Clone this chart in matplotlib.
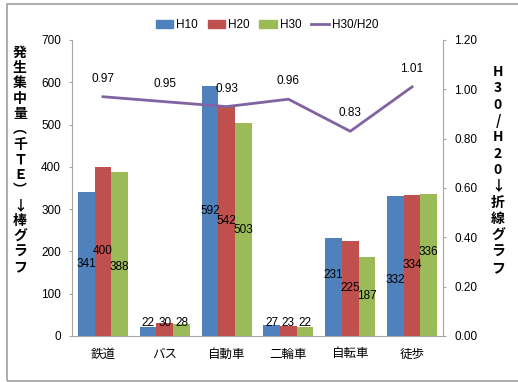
import matplotlib
matplotlib.use("Agg")
import matplotlib.pyplot as plt
import numpy as np
from matplotlib.lines import Line2D
from matplotlib.patches import Rectangle

plt.rcParams['font.family'] = ['Liberation Sans', 'Noto Sans CJK JP', 'DejaVu Sans']

categories = ['鉄道', 'バス', '自動車', '二輪車', '自転車', '徒歩']
h10 = [341, 22, 592, 27, 231, 332]
h20 = [400, 30, 542, 23, 225, 334]
h30 = [388, 28, 503, 22, 187, 336]
ratio = [0.97, 0.95, 0.93, 0.96, 0.83, 1.01]
series_names = ['H10', 'H20', 'H30', 'H30/H20']

left_label = '発生集中量︵千ＴＥ︶↓棒グラフ'
right_label = 'H30/H20↓折線グラフ'

colors = ['#4F81BD', '#C0504D', '#9BBB59']
line_color = '#8064A2'
axis_gray = '#A6A6A6'

# vertical nudges (points) for value labels that would otherwise collide
label_nudge = {(0, 2): -9.5, (4, 0): 8.5, (5, 0): -10, (5, 2): 9.5}

W, H = 518, 382
fig = plt.figure(figsize=(W / 100, H / 100), dpi=100)
ax = fig.add_axes([72 / W, 1 - 336 / H, (443 - 72) / W, (336 - 40) / H])
ax2 = ax.twinx()

x = np.arange(len(categories))
bw = 0.27
for i, (vals, c) in enumerate(zip([h10, h20, h30], colors)):
    pos = x + (i - 1) * bw
    ax.bar(pos, vals, width=bw, color=c, zorder=2)
    for j, (p, v) in enumerate(zip(pos, vals)):
        ax.annotate(str(v), (p, max(v / 2, 31)),
                    xytext=(0, label_nudge.get((j, i), 0)), textcoords='offset points',
                    ha='center', va='center', fontsize=8.5, color='black', zorder=5)

ax.set_xlim(-0.5, len(categories) - 0.5)
ax.set_ylim(0, 700)
ax.set_yticks(np.arange(0, 701, 100))
ax.set_xticks(x)
ax.set_xticklabels(categories, fontsize=9)
ax.tick_params(axis='x', length=0, pad=9)
ax.tick_params(axis='y', length=2.5, color=axis_gray, labelsize=8.5, pad=5.5)

ax2.plot(x, ratio, color=line_color, lw=2.0, zorder=4)
for xi, r in zip(x, ratio):
    ax2.annotate(f'{r:.2f}', (xi, r), xytext=(0, 13), textcoords='offset points',
                 ha='center', va='center', fontsize=8.5)
ax2.set_ylim(0, 1.2)
ticks_r = np.arange(0, 1.21, 0.2)
ax2.set_yticks(ticks_r)
ax2.set_yticklabels([f'{t:.2f}' for t in ticks_r])
ax2.tick_params(axis='y', length=2.5, color=axis_gray, labelsize=8.5, pad=5.5)

for a in (ax, ax2):
    a.spines['top'].set_visible(False)
    for s in ('left', 'right', 'bottom'):
        a.spines[s].set_color(axis_gray)
ax.spines['right'].set_visible(False)
ax2.spines['left'].set_visible(False)
ax2.spines['bottom'].set_visible(False)

fig.text(20 / W, 1 - 160 / H, '\n'.join(left_label), ha='center', va='center',
         fontsize=10, fontweight='bold', linespacing=1.12,
         family=['Noto Sans CJK JP', 'DejaVu Sans'])
fig.text(498 / W, 1 - 170 / H, '\n'.join(right_label), ha='center', va='center',
         fontsize=10, fontweight='bold', linespacing=1.21,
         family=['Noto Sans CJK JP', 'DejaVu Sans'])

handles = [Rectangle((0, 0), 1, 1, color=c) for c in colors]
handles.append(Line2D([0], [0], color=line_color, lw=2.0))
fig.legend(handles, series_names, loc='center', bbox_to_anchor=(267 / W, 1 - 25 / H),
           ncol=4, frameon=False, fontsize=8.5, handlelength=1.5, handleheight=0.7,
           columnspacing=0.8, handletextpad=0.25, borderpad=0.2)

border = Rectangle((7 / W, 1 - 381 / H), 520 / W, 377 / H, transform=fig.transFigure,
                   fill=False, edgecolor='#A0A0A0', lw=1.2)
fig.patches.append(border)

fig.savefig('out.png', dpi=100)
